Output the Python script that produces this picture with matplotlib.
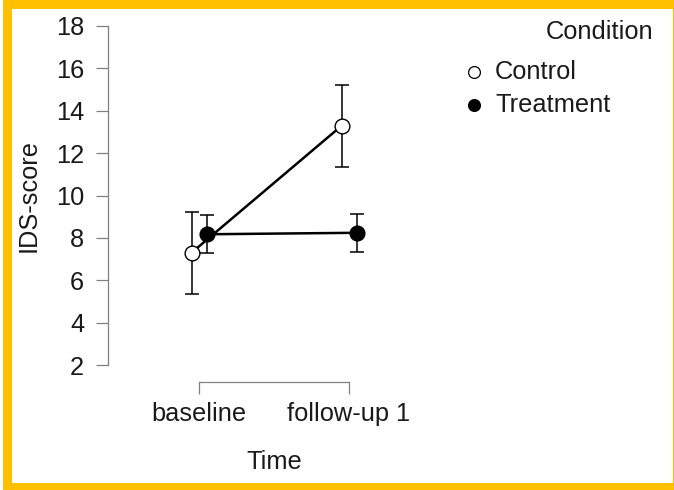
import matplotlib
matplotlib.use("Agg")
import matplotlib.pyplot as plt
from matplotlib.lines import Line2D
from matplotlib.patches import Rectangle

plt.rcParams["font.family"] = ["Liberation Sans", "DejaVu Sans"]

# descriptives: mean IDS-score with 95% CI half-widths
time_labels = ["baseline", "follow-up 1"]
conditions = ["Control", "Treatment"]
control_mean = [7.30, 13.29]
control_ci = [1.93, 1.93]
treatment_mean = [8.17, 8.24]
treatment_ci = [0.89, 0.90]

W, H = 674, 490
FS = 18.3
TXT = "#1a1a1a"
fig = plt.figure(figsize=(W / 100, H / 100), dpi=100)

# yellow frame around the plot
fig.patches.append(Rectangle((0, 0), 1, 1, transform=fig.transFigure,
                             facecolor="#FFC000", edgecolor="none", zorder=-10))
fig.patches.append(Rectangle((12 / W, 1 - 483 / H), (673 - 12) / W, (483 - 9) / H,
                             transform=fig.transFigure, facecolor="white",
                             edgecolor="none", zorder=-9))
fig.patches.append(Rectangle((0, 0), 3 / W, 1, transform=fig.transFigure,
                             facecolor="white", edgecolor="none", zorder=-8))

ax = fig.add_axes([108 / W, 1 - 382 / H, (420 - 108) / W, (382 - 26) / H])
ax.set_facecolor("none")

x = list(range(len(time_labels)))
dodge = 0.05
series = [
    (control_mean, control_ci, -dodge, "white"),
    (treatment_mean, treatment_ci, dodge, "black"),
]
for mean, ci, off, fc in series:
    xs = [v + off for v in x]
    ax.errorbar(xs, mean, yerr=ci, fmt="none", ecolor="black",
                elinewidth=1.1, capsize=5.3, capthick=1.1, zorder=2)
    ax.plot(xs, mean, color="black", lw=1.8, zorder=3)
    ax.plot(xs, mean, ls="none", marker="o", ms=10.6, mfc=fc,
            mec="black", mew=1.0, zorder=4)

ax.set_xlim(-0.607, 1.473)
ax.set_ylim(2 - 17 / 21.19, 18)
ax.set_yticks(range(2, 19, 2))
ax.set_xticks(x)
ax.set_xticklabels(time_labels)

for side in ["top", "right"]:
    ax.spines[side].set_visible(False)
ax.spines["left"].set_bounds(2, 18)
ax.spines["bottom"].set_bounds(0, 1)
for side in ["left", "bottom"]:
    ax.spines[side].set_color("#808080")
    ax.spines[side].set_linewidth(0.9)
ax.tick_params(axis="y", direction="out", length=8.6, width=0.9,
               color="#808080", pad=8.6, labelsize=FS, labelcolor=TXT)
ax.tick_params(axis="x", direction="out", length=8.6, width=0.9,
               color="#808080", pad=6.0, labelsize=FS, labelcolor=TXT)

# axis titles
fig.text(29 / W, 1 - 195 / H, "IDS-score", rotation=90, ha="center",
         va="center", fontsize=FS, color=TXT)
fig.text(274 / W, 1 - 462 / H, "Time", ha="center", va="center",
         fontsize=FS, color=TXT)

# legend
fig.text(653 / W, 1 - 32 / H, "Condition", ha="right", va="center",
         fontsize=FS, color=TXT)
for i, (name, fc) in enumerate(zip(conditions, ["white", "black"])):
    yy = 1 - (72 + 33 * i) / H
    fig.add_artist(Line2D([474 / W], [yy], transform=fig.transFigure,
                          ls="none", marker="o", ms=8.5, mfc=fc, mec="black",
                          mew=0.9))
    fig.text(495 / W, yy, name, ha="left", va="center", fontsize=FS,
             color=TXT)

fig.savefig("out.png", dpi=100)
